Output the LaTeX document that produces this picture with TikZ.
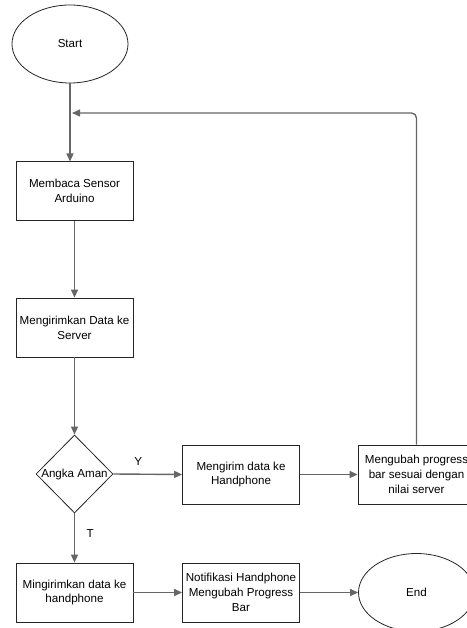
\documentclass[tikz,border=0pt]{standalone}
\usepackage{fontspec}
\setmainfont{Liberation Sans}
\usetikzlibrary{shapes.geometric,arrows.meta}
\begin{document}
\begin{tikzpicture}[x=1pt,y=-1pt,
  box/.style={draw=black!85, line width=0.8pt, minimum width=117pt, minimum height=59pt, inner sep=2pt, align=center, font=\fontsize{11.6}{14.8}\selectfont},
  term/.style={ellipse, draw=black!85, line width=0.8pt, minimum width=116pt, minimum height=78pt, inner sep=0pt, font=\fontsize{11.6}{14.8}\selectfont},
  conn/.style={draw=black!60, line width=1.4pt, -{Triangle[length=8pt,width=7pt]}},
  lbl/.style={font=\fontsize{11.6}{14.8}\selectfont}]
\useasboundingbox (0,0) rectangle (466,628);
\node[term] (start) at (70,44) {Start};
\node[box] (b1) at (74.5,191) {Membaca Sensor\\Arduino};
\node[box] (b2) at (74.5,327.5) {Mengirimkan Data ke\\Server};
\node[diamond, draw=black!85, line width=0.8pt, minimum width=77pt, minimum height=78pt, inner sep=0pt] (d) at (74.5,474) {};
\node[lbl] at (d) {Angka Aman};
\node[box] (b3) at (241,474.5) {Mengirim data ke\\Handphone};
\node[box] (b4) at (416.5,474.5) {Mengubah progress\\bar sesuai dengan\\nilai server};
\node[box] (b5) at (74.5,592.5) {Mingirimkan data ke\\handphone};
\node[box] (b6) at (241,592.5) {Notifikasi Handphone\\Mengubah Progress\\Bar};
\node[term] (end) at (416.5,592.5) {End};
\coordinate (fb) at (72,113);
\draw[conn] (start.south -| 70,0) -- (70,161.5);
\draw[conn] (b1.south) -- (b2.north);
\draw[conn] (b2.south) -- (d.north);
\draw[conn] (d.east) -- node[lbl, above=5pt, pos=0.36] {Y} (b3.west);
\draw[conn] (b3.east) -- (b4.west);
\draw[conn, rounded corners=5pt] (b4.north) -- (b4.north |- fb) -- (fb);
\draw[conn] (d.south) -- node[lbl, right=8pt, pos=0.4] {T} (b5.north);
\draw[conn] (b5.east) -- (b6.west);
\draw[conn] (b6.east) -- (end.west);
\end{tikzpicture}
\end{document}
